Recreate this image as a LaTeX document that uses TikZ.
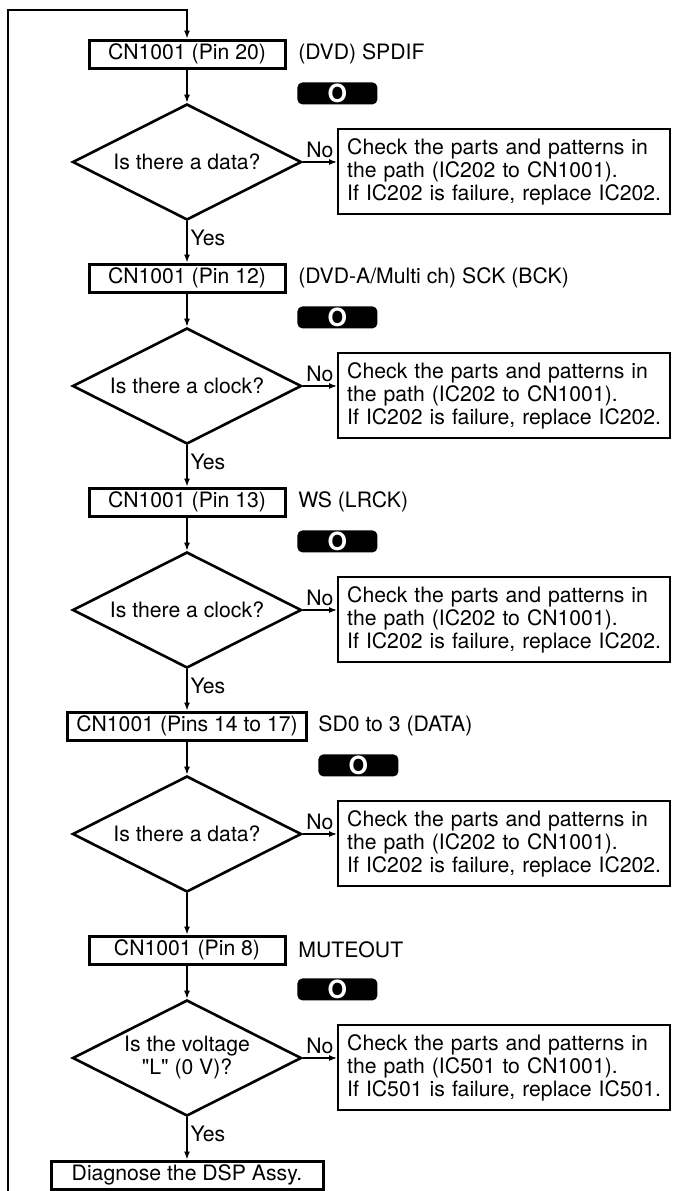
\documentclass[tikz,border=0pt]{standalone}
\usepackage{fontspec}
\setmainfont{TeX Gyre Heros}
\usetikzlibrary{arrows.meta,shapes.geometric,positioning}

\tikzset{
  pinbox/.style={rectangle,draw,line width=1.5pt,minimum width=98pt,minimum height=14pt,inner sep=0pt},
  question/.style={diamond,draw,line width=1.3pt,minimum width=114.5pt,minimum height=58pt,aspect=2,inner sep=0pt,align=center},
  checkbox/.style={rectangle,draw,line width=1.2pt,anchor=north west,text width=157pt,minimum height=42.5pt,inner xsep=4.5pt,align=left},
  badge/.style={rectangle,fill=black,rounded corners=2.5pt,anchor=north west,minimum width=40pt,minimum height=11pt,inner sep=0pt,text=white,font=\fontsize{12.5}{12.5}\selectfont\bfseries},
  signal/.style={anchor=west,inner sep=0pt},
  flow/.style={->,line width=0.7pt},
}

\begin{document}
\begin{tikzpicture}[x=0.5pt,y=-0.5pt,>={Latex[length=4pt,width=3pt]},
  every node/.style={font=\fontsize{10.6}{11.5}\selectfont}]
\useasboundingbox (0,0) rectangle (676,1191);

% Pin 20
\node[pinbox] (pin20) at (187,54) {CN1001 (Pin 20)};
\node[signal] (sig20) at (298,54) {(DVD) SPDIF};
\node[badge] (osc20) at (297,82) {O};
\node[question] (q20) at (187,162) {Is there a data?};
\node[checkbox] (chk20) at (337,128) {Check the parts and patterns in\\the path (IC202 to CN1001).\\If IC202 is failure, replace IC202.};

% Pin 12
\node[pinbox] (pin12) at (187,278) {CN1001 (Pin 12)};
\node[signal] (sig12) at (298,278) {(DVD-A/Multi ch) SCK (BCK)};
\node[badge] (osc12) at (297,306) {O};
\node[question] (q12) at (187,386) {Is there a clock?};
\node[checkbox] (chk12) at (337,352) {Check the parts and patterns in\\the path (IC202 to CN1001).\\If IC202 is failure, replace IC202.};

% Pin 13
\node[pinbox] (pin13) at (187,502) {CN1001 (Pin 13)};
\node[signal] (sig13) at (298,502) {WS (LRCK)};
\node[badge] (osc13) at (297,530) {O};
\node[question] (q13) at (187,610) {Is there a clock?};
\node[checkbox] (chk13) at (337,576) {Check the parts and patterns in\\the path (IC202 to CN1001).\\If IC202 is failure, replace IC202.};

% Pins 14 to 17
\node[pinbox,minimum width=119.5pt] (pin14) at (187,726) {CN1001 (Pins 14 to 17)};
\node[signal] (sig14) at (318,726) {SD0 to 3 (DATA)};
\node[badge] (osc14) at (318,754) {O};
\node[question] (q14) at (187,834) {Is there a data?};
\node[checkbox] (chk14) at (337,800) {Check the parts and patterns in\\the path (IC202 to CN1001).\\If IC202 is failure, replace IC202.};

% Pin 8
\node[pinbox] (pin8) at (187,950) {CN1001 (Pin 8)};
\node[signal] (sig8) at (298,950) {MUTEOUT};
\node[badge] (osc8) at (297,978) {O};
\node[question] (q8) at (187,1058) {Is the voltage\\\textquotedbl L\textquotedbl\ (0 V)?};
\node[checkbox] (chk8) at (337,1024) {Check the parts and patterns in\\the path (IC501 to CN1001).\\If IC501 is failure, replace IC501.};

\node[pinbox,minimum width=136pt] (dsp) at (187,1175) {Diagnose the DSP Assy.};

% loop back to the top
\coordinate (lbot) at (8,1191);
\coordinate (ltop) at (8,10);
\coordinate (lturn) at (187,10);
\draw[flow] (lbot) -- (ltop) -- (lturn) -- (pin20);

% main column
\draw[flow] (pin20) -- (q20);
\draw[flow] (q20) -- node[right,inner sep=1.5pt,pos=0.4] {Yes} (pin12);
\draw[flow] (pin12) -- (q12);
\draw[flow] (q12) -- node[right,inner sep=1.5pt,pos=0.4] {Yes} (pin13);
\draw[flow] (pin13) -- (q13);
\draw[flow] (q13) -- node[right,inner sep=1.5pt,pos=0.4] {Yes} (pin14);
\draw[flow] (pin14) -- (q14);
\draw[flow] (q14) -- (pin8);
\draw[flow] (pin8) -- (q8);
\draw[flow] (q8) -- node[right,inner sep=1.5pt,pos=0.4] {Yes} (dsp);

% No branches
\draw[flow] (q20.east) -- node[above,inner sep=1.5pt] {No} (q20.east -| chk20.west);
\draw[flow] (q12.east) -- node[above,inner sep=1.5pt] {No} (q12.east -| chk12.west);
\draw[flow] (q13.east) -- node[above,inner sep=1.5pt] {No} (q13.east -| chk13.west);
\draw[flow] (q14.east) -- node[above,inner sep=1.5pt] {No} (q14.east -| chk14.west);
\draw[flow] (q8.east) -- node[above,inner sep=1.5pt] {No} (q8.east -| chk8.west);
\end{tikzpicture}
\end{document}
